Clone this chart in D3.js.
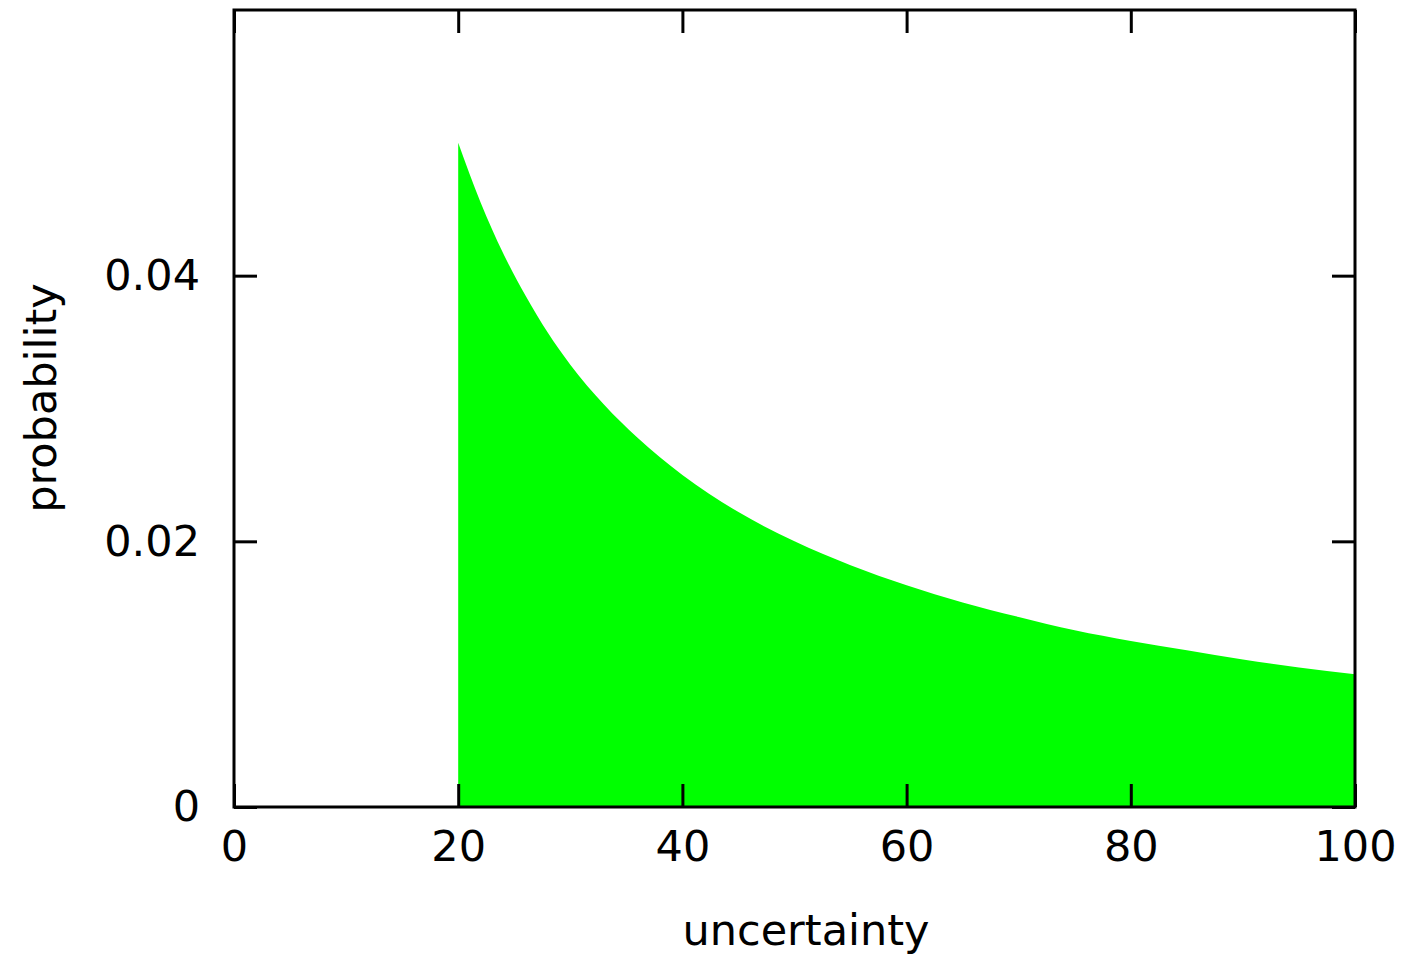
<!DOCTYPE html>
<html>
<head>
<meta charset="utf-8">
<script src="https://cdn.jsdelivr.net/npm/d3@7"></script>
<style>
  html, body { margin: 0; padding: 0; background: #fff; }
  svg { display: block; }
  text { font-family: "DejaVu Sans", sans-serif; fill: #000; }
</style>
</head>
<body>
<svg id="chart" width="1403" height="956"></svg>
<script>
// Sampled density of the uncertainty distribution
const uncertainty = [20, 22, 24, 26, 28, 30, 33, 36, 40, 45, 50, 55, 60, 65, 70, 75, 80, 85, 90, 95, 100];
const probability = [0.05, 0.0455, 0.0417, 0.0385, 0.0357, 0.0333, 0.0303, 0.0278, 0.025, 0.0222, 0.02,
                     0.0182, 0.0167, 0.0154, 0.0143, 0.0133, 0.0125, 0.0118, 0.0111, 0.0105, 0.01];
const xTicks = [0, 20, 40, 60, 80, 100];
const yTicks = [0, 0.02, 0.04];
const yTickLabels = ["0", "0.02", "0.04"];

const svg = d3.select("#chart");
const plotLeft = 234, plotRight = 1355, plotTop = 10, plotBottom = 807;

const x = d3.scaleLinear().domain([0, 100]).range([plotLeft, plotRight]);
const y = d3.scaleLinear().domain([0, 0.06]).range([plotBottom, plotTop]);

const data = uncertainty.map((u, i) => ({ u, p: probability[i] }));

// filled area under the density
const area = d3.area()
  .x(d => x(d.u))
  .y0(y(0))
  .y1(d => y(d.p))
  .curve(d3.curveMonotoneX);

svg.append("path")
  .datum(data)
  .attr("d", area)
  .attr("fill", "#00ff00");

// inward ticks on all four sides
const tickLen = 23;
const axisFont = "43px";

const xb = svg.append("g").attr("transform", `translate(0,${plotBottom})`)
  .call(d3.axisBottom(x).tickValues(xTicks).tickSize(-tickLen).tickPadding(23));
const xt = svg.append("g").attr("transform", `translate(0,${plotTop})`)
  .call(d3.axisTop(x).tickValues(xTicks).tickSize(-tickLen).tickFormat(""));
const yl = svg.append("g").attr("transform", `translate(${plotLeft},0)`)
  .call(d3.axisLeft(y).tickValues(yTicks).tickSize(-tickLen).tickPadding(34)
    .tickFormat((d, i) => yTickLabels[i]));
const yr = svg.append("g").attr("transform", `translate(${plotRight},0)`)
  .call(d3.axisRight(y).tickValues(yTicks).tickSize(-tickLen).tickFormat(""));

[xb, xt, yl, yr].forEach(g => {
  g.select(".domain").remove();
  g.selectAll(".tick line").attr("stroke", "#000").attr("stroke-width", 3);
  g.selectAll(".tick text").style("font-size", axisFont).style("font-family", "DejaVu Sans, sans-serif").attr("fill", "#000");
});
xb.selectAll(".tick text").attr("dy", "0.71em");

// plot frame
svg.append("rect")
  .attr("x", plotLeft).attr("y", plotTop)
  .attr("width", plotRight - plotLeft).attr("height", plotBottom - plotTop)
  .attr("fill", "none").attr("stroke", "#000").attr("stroke-width", 3);

// axis titles
svg.append("text")
  .attr("x", 806).attr("y", 945)
  .attr("text-anchor", "middle")
  .style("font-size", axisFont)
  .text("uncertainty");

svg.append("text")
  .attr("transform", `translate(56,398) rotate(-90)`)
  .attr("text-anchor", "middle")
  .style("font-size", axisFont)
  .text("probability");
</script>
</body>
</html>
